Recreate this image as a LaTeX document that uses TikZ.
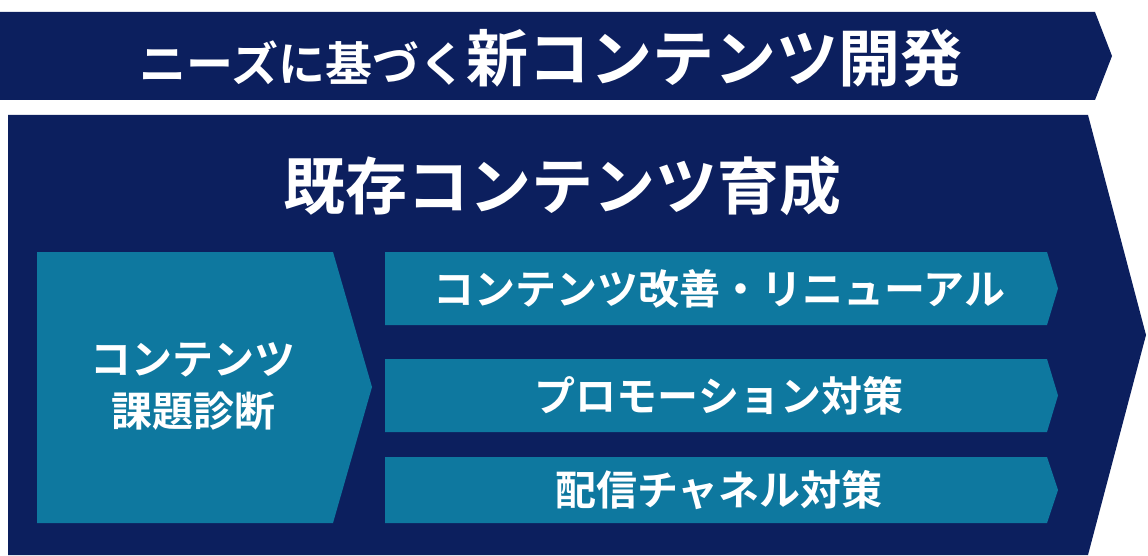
\documentclass[tikz,border=0pt]{standalone}
\usepackage{fontspec}
\newfontfamily\jp{Noto Sans CJK JP Bold}
\definecolor{navy}{HTML}{0C1F5E}
\definecolor{teal}{HTML}{0E789F}
\begin{document}
\begin{tikzpicture}[x=1pt,y=-1pt,
  lbl/.style={text=white,align=center,inner sep=0}]
\useasboundingbox (0,0) rectangle (1148,556);
\fill[navy] (0,12) -- (1095,12) -- (1112,56) -- (1095,100) -- (0,100) -- cycle;
\node[lbl,font=\jp] (top) at (551,58) {\fontsize{47}{50}\selectfont ニーズに基づく\fontsize{62}{66}\selectfont 新コンテンツ開発};
\fill[navy] (8,115) -- (1088,115) -- (1146,335) -- (1088,555) -- (8,555) -- cycle;
\node[lbl,font=\jp\fontsize{62}{66}\selectfont] (t2) at (562,186) {既存コンテンツ育成};
\fill[teal] (37,252) -- (333,252) -- (372,387) -- (333,523) -- (37,523) -- cycle;
\node[lbl,font=\jp\fontsize{41}{52}\selectfont] (l) at (193,386) {コンテンツ\\課題診断};
\foreach \a/\b/\t [count=\i] in {252/325/コンテンツ改善・リニューアル,359/432/プロモーション対策,457/523/配信チャネル対策}{
  \fill[teal] (385,\a) -- (1047,\a) -- (1058,{(\a+\b)/2}) -- (1047,\b) -- (385,\b) -- cycle;
  \node[lbl,font=\jp\fontsize{41}{46}\selectfont] (r\i) at (719,{(\a+\b)/2}) {\t};
}
\end{tikzpicture}
\end{document}
